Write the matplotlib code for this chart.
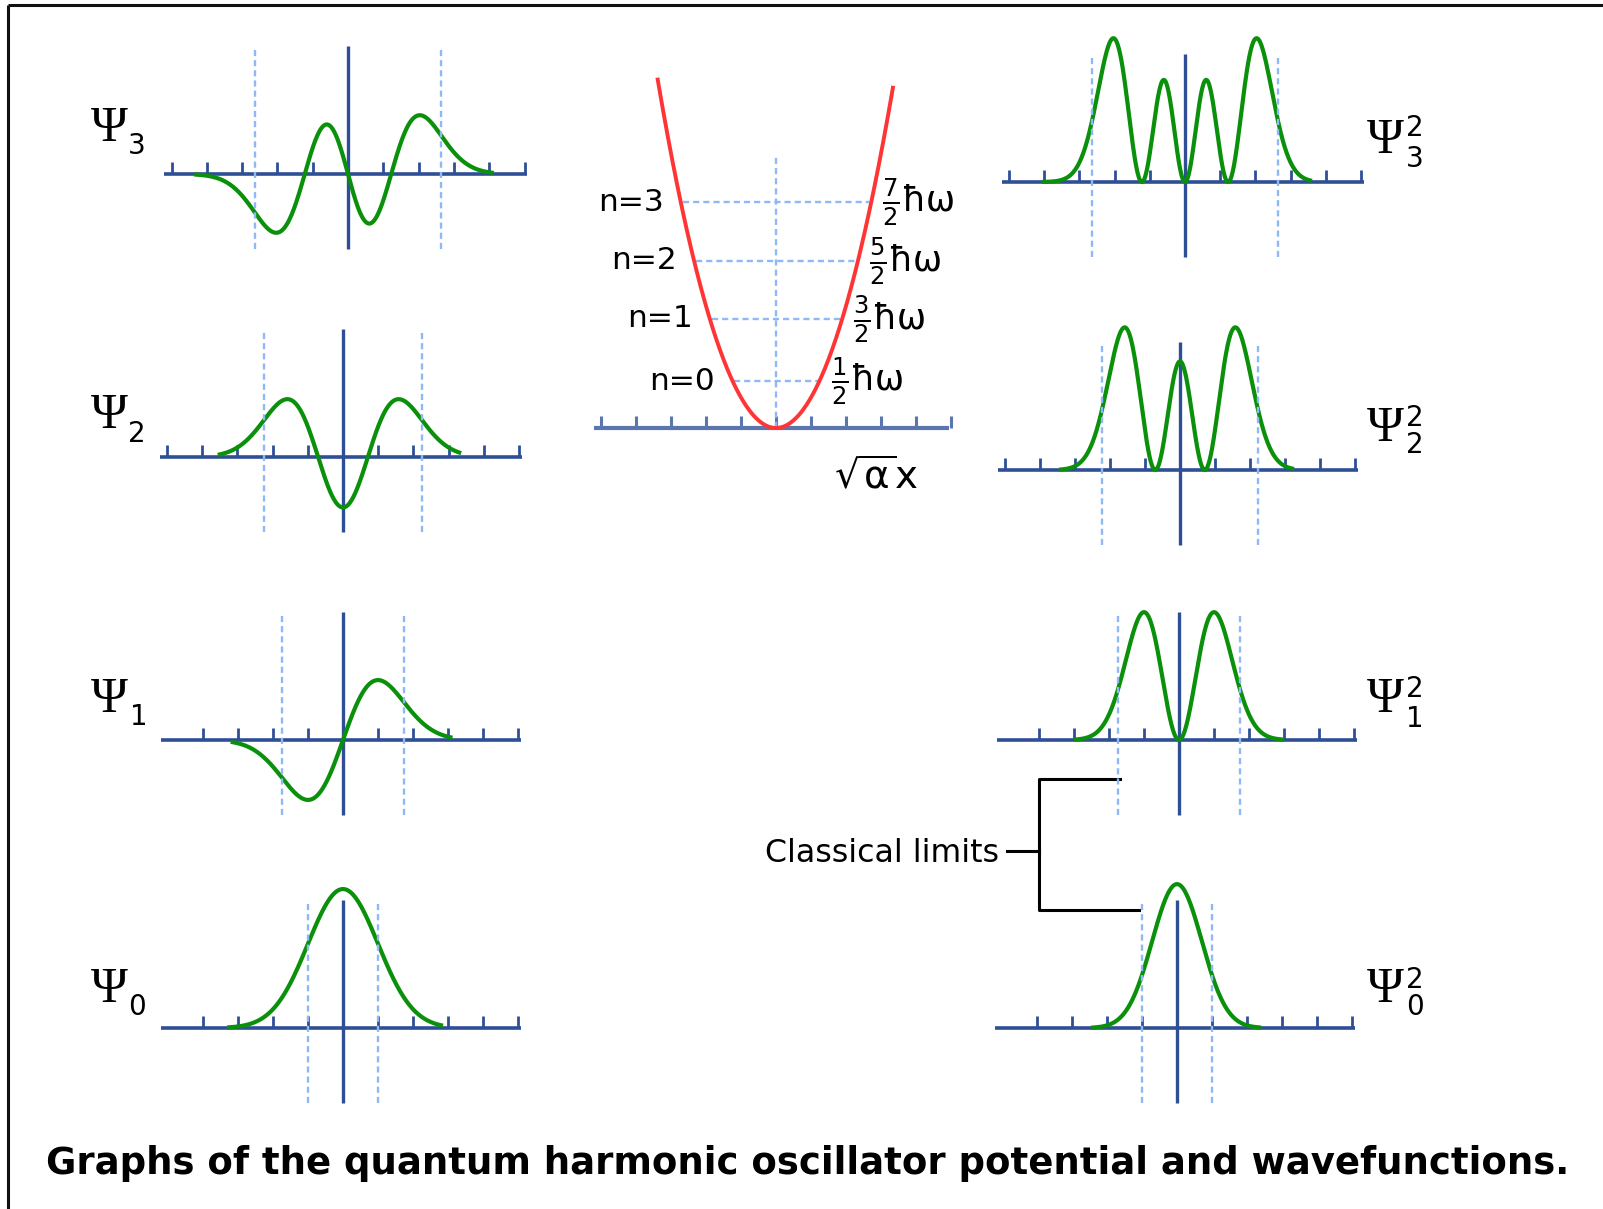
import numpy as np
import matplotlib
matplotlib.use("Agg")
import matplotlib.pyplot as plt
from math import factorial, pi, sqrt
from numpy.polynomial.hermite import hermval

# quantum numbers, energy labels and the heights the levels are drawn at (hbar*omega units)
levels = [0, 1, 2, 3]
level_y = [0.77, 1.79, 2.74, 3.70]
energy_fracs = [r'$\frac{1}{2}$', r'$\frac{3}{2}$', r'$\frac{5}{2}$', r'$\frac{7}{2}$']
level_labels = ['n=0', 'n=1', 'n=2', 'n=3']

# extent of each drawn curve (in sqrt(alpha)x units)
psi_lo = [-3.25, -3.15, -3.5, -4.3]
psi_hi = [2.8, 3.07, 3.3, 4.07]
prob_lo = [-2.4, -2.95, -3.4, -4.0]
prob_hi = [2.35, 2.95, 3.2, 3.55]
ticks_long = [-5, -4, -3, -2, -1, 1, 2, 3, 4, 5]
ticks_short = [-4, -3, -2, -1, 1, 2, 3, 4, 5]
pot_ticks = [-5, -4, -3, -2, -1, 0, 1, 2, 3, 4, 5]
pot_range = [-3.38, 3.34]

# panel layout (pixels)
W, H = 1603, 1209
left_cx = [343, 343, 343, 348]
left_ay = [1028, 740, 457, 174]
left_sx = [35, 35, 35.2, 35.3]
left_sy = [185, 93, 95, 100]
right_cx = [1177, 1179, 1180, 1185]
right_ay = [1028, 740, 470, 182]
right_sx = [35, 35, 35, 35.2]
right_sy = [255, 308, 385, 416]

AXIS = '#2e4e96'
AXIS2 = '#5a76b0'
GREEN = '#0a900a'
DOT = '#8fb8f6'
RED = '#ff3434'
DOTS = (0, (2.6, 1.7))


def psi(n, x):
    c = np.zeros(n + 1)
    c[n] = 1
    norm = 1 / sqrt(2 ** n * factorial(n) * sqrt(pi))
    return norm * hermval(x, c) * np.exp(-x ** 2 / 2)


fig = plt.figure(figsize=(W / 100, H / 100), dpi=100)
ov = fig.add_axes([0, 0, 1, 1])
ov.set_xlim(0, W)
ov.set_ylim(H, 0)
ov.axis('off')


def panel(cx, ay, sx, sy, up=160, down=100):
    ax = fig.add_axes([(cx - 6 * sx) / W, 1 - (ay + down) / H, 12 * sx / W, (up + down) / H])
    ax.set_xlim(-6, 6)
    ax.set_ylim(-down / sy, up / sy)
    ax.axis('off')
    ax.patch.set_visible(False)
    return ax


def frame(ax, sy, ticks, limit):
    ax.plot([-5.2, 5.08], [0, 0], color=AXIS, lw=2.6, solid_capstyle='butt', zorder=1)
    ax.vlines(ticks, 0, 12 / sy, color=AXIS, lw=2.0, zorder=1)
    ax.plot([0, 0], [-75 / sy, 128 / sy], color=AXIS, lw=2.4, solid_capstyle='butt', zorder=1)
    for s in (-1, 1):
        ax.plot([s * limit] * 2, [-75 / sy, 128 / sy], color=DOT, lw=1.7, ls=DOTS, zorder=3)


for i, n in enumerate(levels):
    limit = sqrt(2 * n + 1)
    ticks = ticks_long if n >= 2 else ticks_short
    ax = panel(left_cx[i], left_ay[i], left_sx[i], left_sy[i])
    frame(ax, left_sy[i], ticks, limit)
    x = np.linspace(psi_lo[i], psi_hi[i], 400)
    ax.plot(x, psi(n, x), color=GREEN, lw=3.0, zorder=2)

    ax = panel(right_cx[i], right_ay[i], right_sx[i], right_sy[i])
    frame(ax, right_sy[i], ticks, limit)
    x = np.linspace(prob_lo[i], prob_hi[i], 400)
    ax.plot(x, psi(n, x) ** 2, color=GREEN, lw=3.0, zorder=2)

# potential well
sy_pot = 61
cp = panel(776, 428, 35, sy_pot, up=390, down=90)
cp.plot([-5.2, 4.95], [0, 0], color=AXIS2, lw=3.0, solid_capstyle='butt', zorder=1)
cp.vlines(pot_ticks, 0, 12 / sy_pot, color=AXIS2, lw=2.2, zorder=1)
cp.plot([0, 0], [0, 273 / sy_pot], color=DOT, lw=1.7, ls=DOTS, zorder=1)
xs = np.linspace(pot_range[0], pot_range[1], 300)
cp.plot(xs, xs ** 2 / 2, color=RED, lw=2.8, zorder=3)
for n, E, lab, frac in zip(levels, level_y, level_labels, energy_fracs):
    xt = sqrt(2 * E) - 0.05
    cp.plot([-xt, xt], [E, E], color=DOT, lw=1.7, ls=DOTS, zorder=1)
    cp.annotate(lab, xy=(-xt, E), xytext=(-19, 0), textcoords='offset pixels',
                ha='right', va='center', fontsize=22.5)
    cp.annotate(frac + 'ħω', xy=(xt, E), xytext=(13, 0), textcoords='offset pixels',
                ha='left', va='center', fontsize=25)
cp.text(2.86, -0.8, r'$\sqrt{\mathrm{\alpha}}$x', ha='center', va='center', fontsize=28)

# Psi labels
left_px = [91, 91, 91, 91]
left_base = [1002, 712, 428, 141]
left_subx = [128, 130, 128, 128]
left_subbase = [1015, 725, 442, 154]
right_base = [1002, 712, 441, 153]
right_supbase = [988, 697, 426, 136]
right_subbase = [1015, 727, 453, 167]
for i, n in enumerate(levels):
    ov.text(left_px[i], left_base[i], 'Ψ', family='Liberation Serif', fontsize=36,
            ha='left', va='baseline')
    ov.text(left_subx[i], left_subbase[i], str(n), fontsize=20, ha='left', va='baseline')
    ov.text(1367, right_base[i], 'Ψ', family='Liberation Serif', fontsize=36,
            ha='left', va='baseline')
    ov.text(1406, right_supbase[i], '2', fontsize=20, ha='left', va='baseline')
    ov.text(1406, right_subbase[i], str(n), fontsize=20, ha='left', va='baseline')

# classical limits bracket
ov.plot([1120, 1039, 1039, 1139], [779, 779, 910, 910], color='black', lw=2.2)
ov.plot([1007, 1039], [851, 851], color='black', lw=2.2)
cl = ov.text(999, 854, 'Classical limits', ha='right', va='center', fontsize=22)

# outer frame
ov.plot([8, W], [5, 5], color='#111111', lw=2.2, solid_capstyle='butt')
ov.plot([8, 8], [5, H], color='#111111', lw=2.2, solid_capstyle='butt')

title = ov.text(46, 1164, 'Graphs of the quantum harmonic oscillator potential and wavefunctions.',
                ha='left', va='center', fontsize=26, fontweight='bold')

fig.canvas.draw()
r = fig.canvas.get_renderer()
for t, target in ((title, 1521), (cl, 234)):
    w = t.get_window_extent(r).width
    t.set_fontsize(t.get_fontsize() * target / w)

fig.savefig('out.png', dpi=100)
